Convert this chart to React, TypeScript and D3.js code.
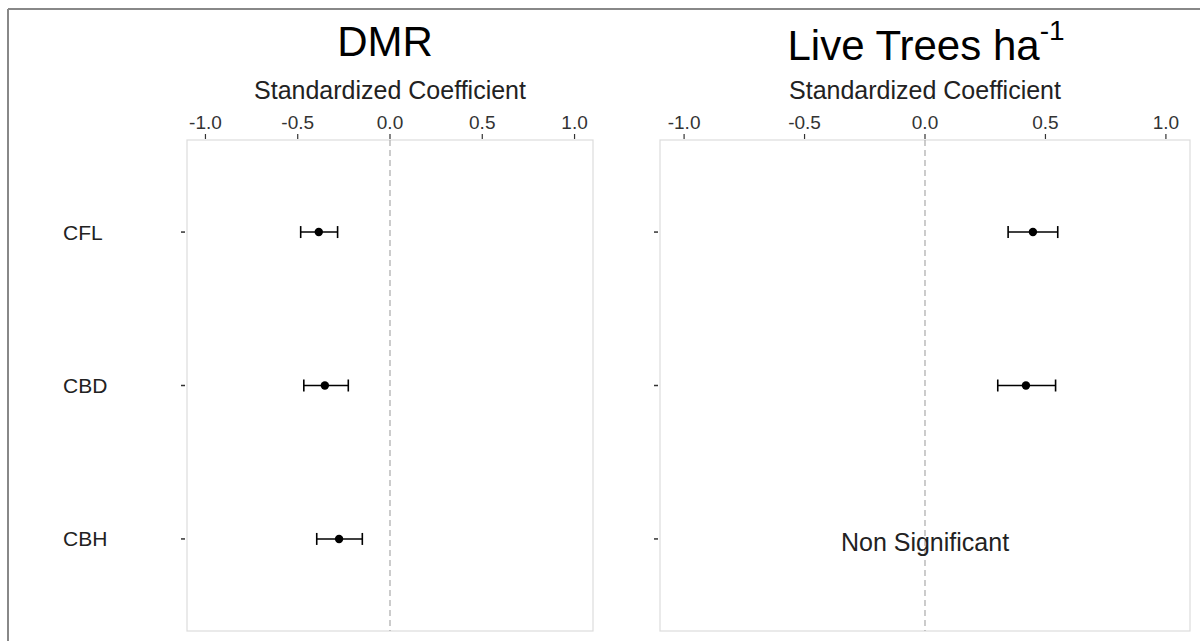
import React from "react";
import * as d3 from "d3";

const categories = ["CFL", "CBD", "CBH"];
const xTicks = [-1.0, -0.5, 0.0, 0.5, 1.0];

const dmrEst = [-0.386, -0.353, -0.276];
const dmrLo = [-0.484, -0.467, -0.397];
const dmrHi = [-0.284, -0.226, -0.15];

const liveEst: (number | null)[] = [0.448, 0.419, null];
const liveLo: (number | null)[] = [0.345, 0.302, null];
const liveHi: (number | null)[] = [0.551, 0.542, null];

const W = 1200;
const H = 641;
const FONT = "'Liberation Sans', Arial, Helvetica, sans-serif";

type PanelProps = {
  x0: number;
  x1: number;
  title: React.ReactNode;
  titleX: number;
  est: (number | null)[];
  lo: (number | null)[];
  hi: (number | null)[];
  showLabels: boolean;
  note?: string;
};

const TOP = 140;
const BOTTOM = 631;

function Panel({ x0, x1, title, titleX, est, lo, hi, showLabels, note }: PanelProps) {
  const x = d3.scaleLinear().domain([-1.1, 1.1]).range([x0, x1]);
  const y = d3.scalePoint<string>().domain(categories).range([TOP, BOTTOM]).padding(0.6);
  const cx = (x0 + x1) / 2;
  return (
    <g>
      {title}
      <text x={cx} y={99} textAnchor="middle" fontSize={25} fill="#222" fontFamily={FONT}>
        Standardized Coefficient
      </text>
      {xTicks.map((t) => (
        <g key={t}>
          <text x={x(t)} y={129} textAnchor="middle" fontSize={19} fill="#333" fontFamily={FONT}>
            {t.toFixed(1)}
          </text>
          <line x1={x(t)} x2={x(t)} y1={134} y2={139} stroke="#333" strokeWidth={1.2} />
        </g>
      ))}
      <rect x={x0} y={TOP} width={x1 - x0} height={BOTTOM - TOP} fill="#fff" stroke="#dcdcdc" strokeWidth={1.2} />
      <line x1={x(0)} x2={x(0)} y1={TOP} y2={BOTTOM} stroke="#aaa" strokeWidth={1.2} strokeDasharray="6,4" />
      {categories.map((c) => (
        <g key={c}>
          <line x1={x0 - 6} x2={x0 - 2} y1={y(c)!} y2={y(c)!} stroke="#333" strokeWidth={1.5} />
          {showLabels && (
            <text x={63} y={(y(c) as number) + 7.5} fontSize={21} fill="#222" fontFamily={FONT}>
              {c}
            </text>
          )}
        </g>
      ))}
      {categories.map((c, i) => {
        const e = est[i];
        const l = lo[i];
        const h = hi[i];
        if (e == null || l == null || h == null) return null;
        const yy = y(c) as number;
        return (
          <g key={"p" + c}>
            <line x1={x(l)} x2={x(h)} y1={yy} y2={yy} stroke="#000" strokeWidth={1.6} />
            <line x1={x(l)} x2={x(l)} y1={yy - 6} y2={yy + 6} stroke="#000" strokeWidth={1.6} />
            <line x1={x(h)} x2={x(h)} y1={yy - 6} y2={yy + 6} stroke="#000" strokeWidth={1.6} />
            <circle cx={x(e)} cy={yy} r={4.2} fill="#000" />
          </g>
        );
      })}
      {note && (
        <text x={x(0)} y={(y("CBH") as number) + 12} textAnchor="middle" fontSize={25} fill="#222" fontFamily={FONT}>
          {note}
        </text>
      )}
    </g>
  );
}

export default function App() {
  return (
    <svg
      width={W}
      height={H}
      style={{ position: "absolute", left: 0, top: 0, background: "#fff" }}
      fontFamily={FONT}
    >
      <rect x={0} y={0} width={W} height={H} fill="#fff" />
      <line x1={8} x2={W} y1={9} y2={9} stroke="#888" strokeWidth={2} />
      <line x1={8} x2={8} y1={9} y2={H} stroke="#888" strokeWidth={2} />
      <Panel
        x0={187}
        x1={593}
        titleX={385}
        title={
          <text x={385} y={56} textAnchor="middle" fontSize={42} fill="#000" fontFamily={FONT}>
            DMR
          </text>
        }
        est={dmrEst}
        lo={dmrLo}
        hi={dmrHi}
        showLabels={true}
      />
      <Panel
        x0={660}
        x1={1190}
        titleX={926}
        title={
          <text x={926} y={60} textAnchor="middle" fontSize={42} fill="#000" fontFamily={FONT}>
            Live Trees ha
            <tspan fontSize={28} dy={-20}>-1</tspan>
          </text>
        }
        est={liveEst}
        lo={liveLo}
        hi={liveHi}
        showLabels={false}
        note="Non Significant"
      />
    </svg>
  );
}
